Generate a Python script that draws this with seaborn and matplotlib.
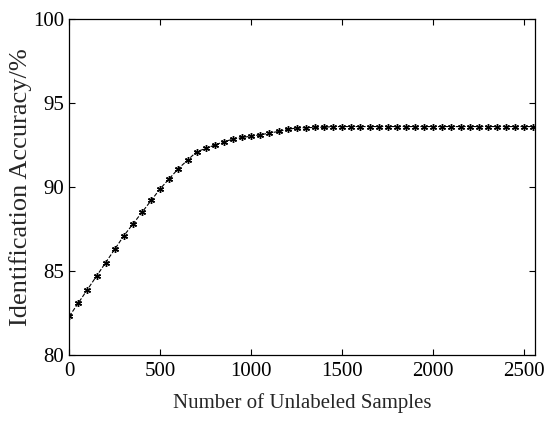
import numpy as np
import pandas as pd
import matplotlib
matplotlib.use("Agg")
import matplotlib.pyplot as plt
import seaborn as sns

# Number of unlabeled samples (step 50)
samples = list(range(0, 2551, 50))

# Identification accuracy (%)
accuracy = [82.3, 83.1, 83.9, 84.7, 85.5, 86.3, 87.1, 87.8, 88.5, 89.2,
            89.9, 90.5, 91.1, 91.6, 92.1, 92.3, 92.5, 92.7, 92.85, 92.95,
            93.03, 93.11, 93.21, 93.31, 93.43, 93.52, 93.53, 93.55, 93.56, 93.6,
            93.6, 93.6, 93.6, 93.6, 93.6, 93.6, 93.6, 93.6, 93.6, 93.6,
            93.6, 93.6, 93.6, 93.6, 93.6, 93.6, 93.6, 93.6, 93.6, 93.6,
            93.6, 93.6]

df = pd.DataFrame({"Samples": samples, "Accuracy": accuracy})

sns.set_style("ticks")
plt.rcParams["font.family"] = ["Liberation Serif", "DejaVu Serif"]
plt.rcParams["xtick.direction"] = "in"
plt.rcParams["ytick.direction"] = "in"

fig = plt.figure(figsize=(5.45, 4.32), dpi=100)
ax = fig.add_axes([0.127, 0.178, 0.855, 0.778])

# MATLAB-style asterisk marker
sns.lineplot(x="Samples", y="Accuracy", data=df, ax=ax, color="black",
             linestyle="--", linewidth=0.8, marker=(6, 2, 0), markersize=5,
             markeredgewidth=1.0, markeredgecolor="black")

ax.set_xlim(0, 2560)
ax.set_ylim(80, 100)
ax.set_xticks([0, 500, 1000, 1500, 2000, 2500])
ax.set_yticks([80, 85, 90, 95, 100])
ax.tick_params(axis="both", labelsize=15, top=True, right=True, length=4,
               width=0.8, colors="black")
ax.tick_params(axis="x", pad=5)
for s in ax.spines.values():
    s.set_visible(True)
    s.set_linewidth(0.9)
    s.set_color("black")

ax.set_xlabel("Number of Unlabeled Samples", fontsize=15, labelpad=9)
ax.set_ylabel("Identification Accuracy/%", fontsize=19, labelpad=1)

fig.savefig("out.png", dpi=100)
